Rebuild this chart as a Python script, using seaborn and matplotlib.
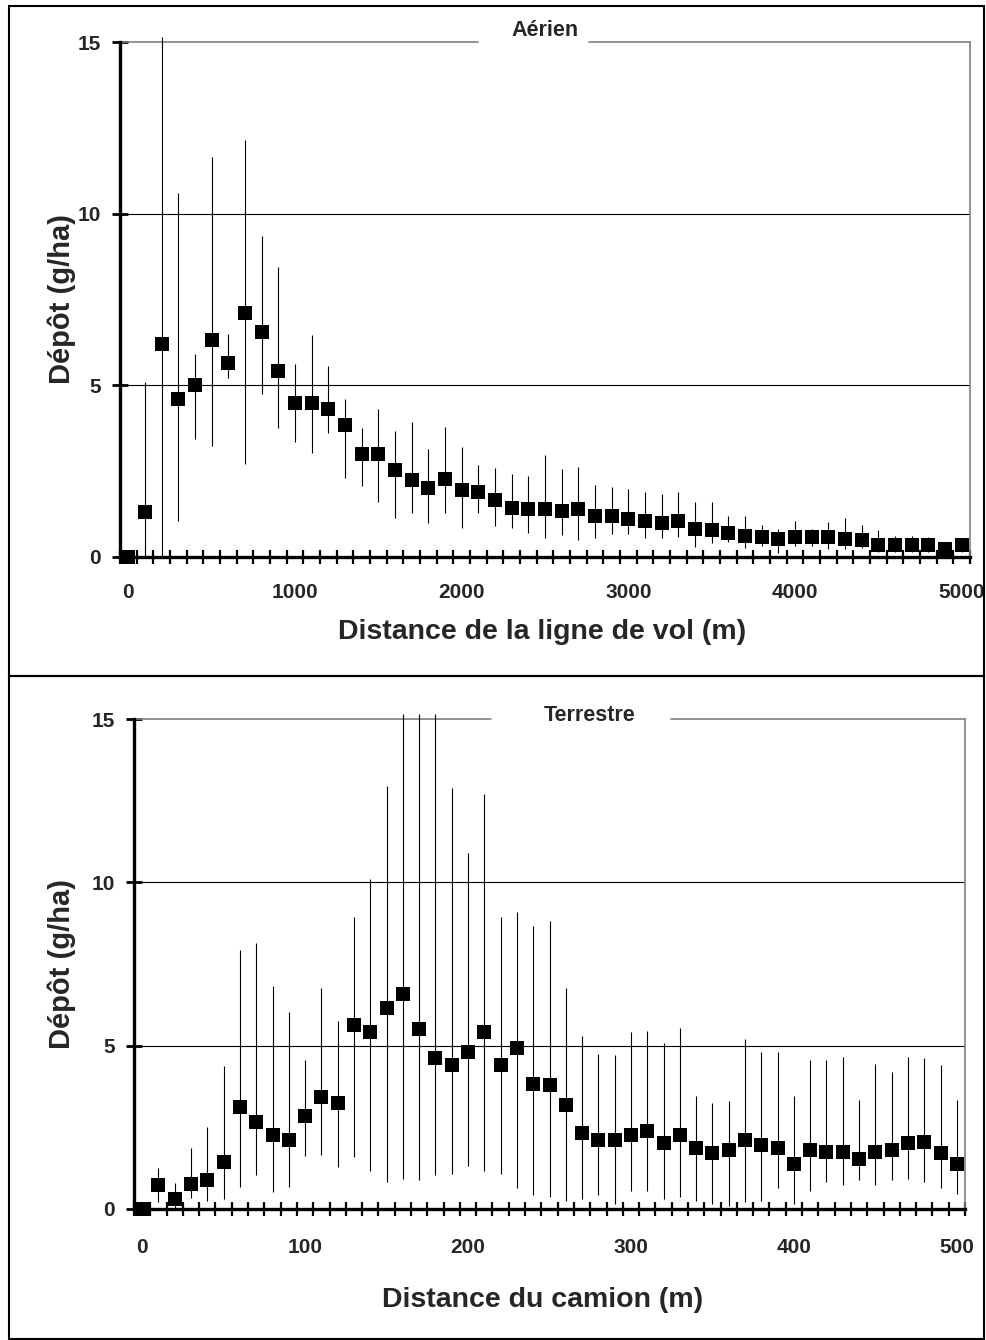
"""
Dépôt en fonction de la distance : pulvérisation aérienne et terrestre.
Two stacked panels, square markers with vertical min/max bars.
"""

import numpy as np
import pandas as pd
import matplotlib
matplotlib.use("Agg")
import matplotlib.pyplot as plt
import matplotlib.patches as mpatches
import seaborn as sns

# ── Data ─────────────────────────────────────────────────────────────────────
# Aérien: distance from the flight line, every 100 m
dist_air = list(range(0, 5001, 100))
air_mean = [0.00, 1.30, 6.20, 4.61, 5.02, 6.32, 5.65, 7.10, 6.54, 5.42,
            4.48, 4.48, 4.30, 3.85, 2.99, 2.99, 2.52, 2.23, 2.00, 2.28,
            1.96, 1.88, 1.67, 1.44, 1.41, 1.41, 1.35, 1.41, 1.20, 1.18,
            1.11, 1.04, 0.98, 1.06, 0.83, 0.80, 0.71, 0.60, 0.57, 0.52,
            0.57, 0.57, 0.57, 0.52, 0.49, 0.36, 0.36, 0.36, 0.34, 0.23,
            0.34]
air_low = [0.00, 0.00, 0.00, 1.04, 3.44, 3.23, 5.20, 2.70, 4.74, 3.75,
           3.36, 3.02, 3.61, 2.29, 2.06, 1.59, 1.13, 1.27, 0.99, 1.27,
           0.85, 1.27, 0.90, 0.85, 0.71, 0.54, 0.63, 0.50, 0.54, 0.68,
           0.68, 0.54, 0.54, 0.57, 0.29, 0.40, 0.44, 0.26, 0.31, 0.13,
           0.33, 0.33, 0.23, 0.23, 0.25, 0.16, 0.16, 0.16, 0.14, 0.10,
           0.16]
air_high = [0.00, 5.10, 15.15, 10.60, 5.90, 11.65, 6.50, 12.16, 9.35, 8.44,
            5.63, 6.48, 5.57, 4.60, 3.75, 4.32, 3.67, 3.94, 3.16, 3.80,
            3.20, 2.68, 2.58, 2.42, 2.36, 2.97, 2.55, 2.63, 2.11, 2.03,
            1.98, 1.88, 1.84, 1.88, 1.61, 1.61, 1.20, 1.20, 0.92, 0.83,
            1.06, 0.83, 1.01, 1.15, 0.94, 0.78, 0.60, 0.62, 0.59, 0.30,
            0.50]

# Terrestre: distance from the truck, every 10 m
dist_truck = list(range(0, 501, 10))
truck_mean = [0.00, 0.73, 0.30, 0.77, 0.90, 1.45, 3.11, 2.67, 2.26, 2.12,
              2.84, 3.42, 3.23, 5.64, 5.41, 6.16, 6.59, 5.52, 4.62, 4.42,
              4.82, 5.41, 4.42, 4.92, 3.83, 3.80, 3.18, 2.34, 2.10, 2.12,
              2.27, 2.38, 2.02, 2.27, 1.88, 1.70, 1.80, 2.12, 1.96, 1.86,
              1.39, 1.80, 1.75, 1.75, 1.52, 1.75, 1.80, 2.02, 2.05, 1.70,
              1.39]
truck_low = [0.00, 0.22, 0.02, 0.35, 0.24, 0.30, 0.66, 1.03, 0.51, 0.66,
             1.61, 1.66, 1.28, 1.58, 1.17, 0.82, 0.93, 0.88, 1.03, 1.06,
             1.31, 1.17, 1.06, 0.65, 0.44, 0.37, 0.24, 0.30, 0.44, 0.16,
             0.54, 0.54, 0.30, 0.37, 0.24, 0.16, 0.10, 0.21, 0.24, 0.65,
             0.16, 0.54, 0.82, 0.73, 0.88, 0.73, 0.88, 0.93, 0.82, 0.65,
             0.46]
truck_high = [0.00, 1.25, 0.79, 1.88, 2.52, 4.38, 7.94, 8.15, 6.83, 6.02,
              4.57, 6.78, 5.74, 8.93, 10.10, 12.95, 15.15, 15.15, 15.15, 12.90,
              10.89, 12.70, 8.93, 9.08, 8.67, 8.82, 6.78, 5.30, 4.76, 4.71,
              5.41, 5.44, 5.09, 5.55, 3.45, 3.25, 3.31, 5.20, 4.81, 4.81,
              3.45, 4.57, 4.57, 4.65, 3.34, 4.44, 4.18, 4.65, 4.62, 4.42,
              3.34]

y_ticks = [0, 5, 10, 15]
air_xticks = [0, 1000, 2000, 3000, 4000, 5000]
truck_xticks = [0, 100, 200, 300, 400, 500]

# ── Style ────────────────────────────────────────────────────────────────────
sns.set_theme(style="white")
plt.rcParams["font.family"] = ["Liberation Sans", "DejaVu Sans"]
plt.rcParams["font.weight"] = "bold"
plt.rcParams["axes.labelweight"] = "bold"

W, H = 987, 1340
fig = plt.figure(figsize=(W / 100, H / 100), dpi=100)
fig.patch.set_facecolor("white")


def px_axes(left, right, top, bottom):
    return [left / W, 1 - bottom / H, (right - left) / W, (bottom - top) / H]


def draw_panel(ax, df, step, xticks, title, title_xy, gap, xlabel,
               xlabel_xy, ylabel_x, xpad):
    # min/max bars first, then the squares on top
    bars = df[df["high"] > df["low"]]
    ax.vlines(bars["dist"], bars["low"], bars["high"], color="black",
              lw=0.8, zorder=2, clip_on=False)
    sns.scatterplot(data=df, x="dist", y="mean", marker="s", s=112,
                    color="black", edgecolor="black", linewidth=0,
                    zorder=3, clip_on=False, legend=False, ax=ax)

    ax.set_xlim(-step / 2, df["dist"].max() + step / 2)
    ax.set_ylim(0, 15)

    # labels on categories, tick marks between categories (Excel style)
    ax.set_xticks(xticks)
    ax.set_xticklabels([str(t) for t in xticks], fontsize=15,
                       fontweight="bold")
    ax.set_xticks(np.arange(-step / 2, df["dist"].max() + step, step),
                  minor=True)
    ax.tick_params(axis="x", which="major", length=0, pad=xpad)
    ax.tick_params(axis="x", which="minor", direction="inout", length=10,
                   width=1.6, color="black", bottom=True)

    ax.set_yticks(y_ticks)
    ax.set_yticklabels([str(t) for t in y_ticks], fontsize=15,
                       fontweight="bold")
    ax.tick_params(axis="y", which="major", direction="inout", length=11,
                   width=2, color="black", left=True, pad=8)

    ax.grid(axis="y", color="black", lw=0.8)
    ax.grid(axis="x", visible=False)
    gl = ax.get_ygridlines()
    gl[0].set_visible(False)
    gl[-1].set_visible(False)
    ax.set_axisbelow(True)

    for side in ["left", "bottom"]:
        ax.spines[side].set_color("black")
        ax.spines[side].set_linewidth(2.4)
    ax.spines["right"].set_color("#808080")
    ax.spines["right"].set_linewidth(1.2)
    ax.spines["top"].set_visible(False)
    # top border, interrupted behind the title
    for a, b in [(0, gap[0]), (gap[1], 1)]:
        ax.plot([a, b], [1, 1], transform=ax.transAxes, color="#808080",
                lw=1.2, clip_on=False, zorder=1)

    ax.text(title_xy[0], title_xy[1], title, transform=ax.transAxes,
            ha="center", va="center", fontsize=15.5, fontweight="bold")

    ax.set_xlabel(xlabel, fontsize=20.5, fontweight="bold")
    ax.xaxis.set_label_coords(*xlabel_xy)
    ax.xaxis.label.set_va("center")
    ax.set_ylabel("Dépôt (g/ha)", fontsize=21, fontweight="bold")
    ax.yaxis.set_label_coords(ylabel_x, 0.5)
    ax.yaxis.label.set_va("center")


df_air = pd.DataFrame({"dist": dist_air, "mean": air_mean,
                       "low": air_low, "high": air_high})
df_truck = pd.DataFrame({"dist": dist_truck, "mean": truck_mean,
                         "low": truck_low, "high": truck_high})

ax1 = fig.add_axes(px_axes(120, 970, 42, 557))
draw_panel(ax1, df_air, 100, air_xticks, "Aérien", (0.5, 1.023),
           (0.421, 0.552), "Distance de la ligne de vol (m)",
           (0.496, -0.146), -0.068, 19)

ax2 = fig.add_axes(px_axes(134, 965, 719, 1209))
draw_panel(ax2, df_truck, 10, truck_xticks, "Terrestre", (0.548, 1.008),
           (0.43, 0.646), "Distance du camion (m)",
           (0.492, -0.186), -0.087, 21)

# chart frames (two stacked charts)
for top, bottom in [(6, 676), (676, 1339)]:
    fig.add_artist(mpatches.Rectangle((9 / W, 1 - bottom / H),
                                      975 / W, (bottom - top) / H,
                                      transform=fig.transFigure, fill=False,
                                      ec="black", lw=1.5))

fig.savefig("out.png", dpi=100)
